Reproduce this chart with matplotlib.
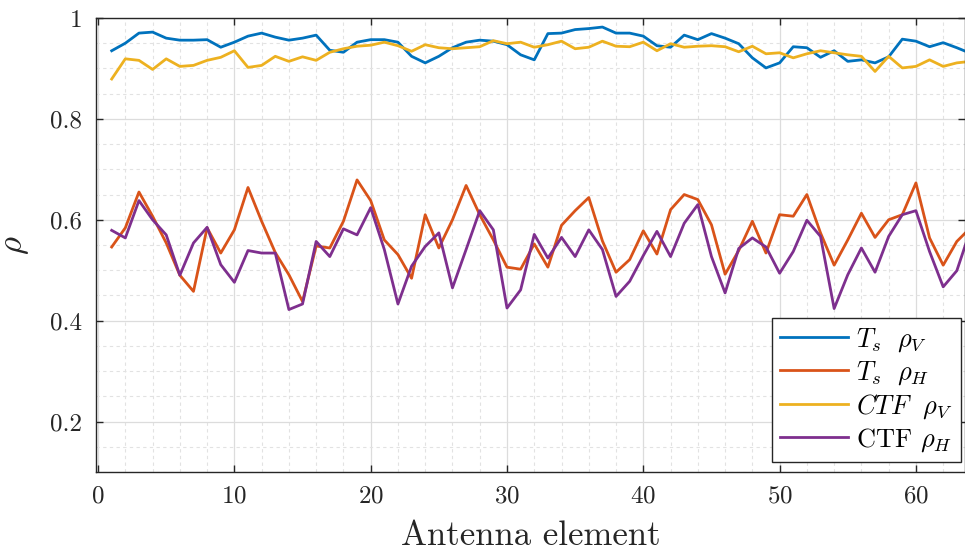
import matplotlib
matplotlib.use('Agg')
import matplotlib.pyplot as plt
import numpy as np
from matplotlib.ticker import MultipleLocator

plt.rcParams['font.family'] = 'serif'
plt.rcParams['font.serif'] = ['cmr10', 'DejaVu Serif']
plt.rcParams['mathtext.fontset'] = 'cm'
plt.rcParams['axes.formatter.use_mathtext'] = True

# data
elements = np.arange(1, 65)
ts_rho_v = [0.935, 0.950, 0.970, 0.972, 0.960, 0.956, 0.956, 0.957, 0.942, 0.952,
            0.964, 0.970, 0.962, 0.956, 0.960, 0.966, 0.936, 0.932, 0.952, 0.957,
            0.957, 0.952, 0.924, 0.911, 0.924, 0.941, 0.952, 0.956, 0.954, 0.947,
            0.927, 0.917, 0.969, 0.970, 0.977, 0.979, 0.982, 0.970, 0.970, 0.964,
            0.945, 0.942, 0.966, 0.957, 0.969, 0.960, 0.949, 0.921, 0.901, 0.911,
            0.943, 0.941, 0.922, 0.935, 0.914, 0.917, 0.911, 0.923, 0.958, 0.954,
            0.943, 0.951, 0.941, 0.930]
ts_rho_h = [0.546, 0.584, 0.655, 0.607, 0.554, 0.490, 0.458, 0.584, 0.534, 0.580,
            0.664, 0.597, 0.535, 0.491, 0.438, 0.548, 0.544, 0.597, 0.679, 0.638,
            0.560, 0.531, 0.484, 0.610, 0.544, 0.600, 0.668, 0.610, 0.560, 0.506,
            0.502, 0.552, 0.506, 0.589, 0.618, 0.644, 0.558, 0.496, 0.521, 0.578,
            0.532, 0.620, 0.650, 0.640, 0.590, 0.492, 0.539, 0.597, 0.534, 0.610,
            0.607, 0.650, 0.574, 0.510, 0.560, 0.613, 0.565, 0.600, 0.610, 0.673,
            0.564, 0.510, 0.557, 0.584]
ctf_rho_v = [0.879, 0.919, 0.916, 0.898, 0.919, 0.904, 0.906, 0.916, 0.922, 0.935,
             0.902, 0.906, 0.924, 0.914, 0.923, 0.916, 0.932, 0.939, 0.944, 0.946,
             0.952, 0.945, 0.934, 0.947, 0.941, 0.939, 0.941, 0.943, 0.955, 0.949,
             0.952, 0.942, 0.947, 0.954, 0.939, 0.942, 0.954, 0.944, 0.943, 0.952,
             0.935, 0.949, 0.942, 0.944, 0.945, 0.943, 0.933, 0.944, 0.929, 0.931,
             0.921, 0.929, 0.935, 0.931, 0.927, 0.924, 0.894, 0.924, 0.901, 0.904,
             0.917, 0.904, 0.911, 0.914]
ctf_rho_h = [0.579, 0.564, 0.638, 0.600, 0.570, 0.490, 0.554, 0.585, 0.511, 0.476,
             0.539, 0.534, 0.534, 0.422, 0.433, 0.557, 0.527, 0.582, 0.570, 0.624,
             0.541, 0.433, 0.508, 0.547, 0.574, 0.465, 0.541, 0.618, 0.580, 0.425,
             0.461, 0.571, 0.524, 0.565, 0.527, 0.580, 0.541, 0.448, 0.478, 0.529,
             0.577, 0.527, 0.593, 0.630, 0.527, 0.455, 0.543, 0.564, 0.546, 0.494,
             0.537, 0.599, 0.567, 0.424, 0.491, 0.544, 0.496, 0.567, 0.610, 0.618,
             0.537, 0.467, 0.499, 0.580]

series = [ts_rho_v, ts_rho_h, ctf_rho_v, ctf_rho_h]
labels = [r'$T_s\ \ \rho_V$', r'$T_s\ \ \rho_H$', r'$CTF\ \ \rho_V$', r'CTF $\rho_H$']
colors = ['#0072BD', '#D95319', '#EDB120', '#7E2F8E']

x_ticks = [0, 10, 20, 30, 40, 50, 60]
y_ticks = [0.2, 0.4, 0.6, 0.8, 1.0]
y_tick_labels = ['0.2', '0.4', '0.6', '0.8', '1']

fig = plt.figure(figsize=(9.65, 5.53), dpi=100)
ax = fig.add_axes([0.0995, 0.1465, 0.9005, 0.821])

for vals, lab, col in zip(series, labels, colors):
    ax.plot(elements, vals, color=col, lw=2, label=lab)

ax.set_xlim(-0.15, 63.6)
ax.set_ylim(0.1, 1.0)
ax.set_xticks(x_ticks)
ax.set_yticks(y_ticks)
ax.set_yticklabels(y_tick_labels)
ax.xaxis.set_minor_locator(MultipleLocator(2))
ax.yaxis.set_minor_locator(MultipleLocator(0.05))

ax.grid(True, which='major', color='#dcdcdc', lw=0.9, zorder=0)
ax.grid(True, which='minor', color='#e2e2e2', lw=0.8, linestyle=(0, (3, 3)), zorder=0)
ax.set_axisbelow(True)

ax.tick_params(which='major', direction='in', length=5, width=1, top=True, right=True,
               labelsize=18, colors='#262626', pad=10)
ax.tick_params(which='minor', length=0)
for s in ax.spines.values():
    s.set_color('#262626')
    s.set_linewidth(1)

ax.set_xlabel('Antenna element', fontsize=25, color='#262626', labelpad=9)
ax.set_ylabel(r'$\rho$', fontsize=25, color='#262626', labelpad=14)

leg = ax.legend(loc='lower right', bbox_to_anchor=(0.995, 0.022), borderaxespad=0,
                fancybox=False, edgecolor='#262626', framealpha=1, fontsize=19,
                handlelength=2.6, labelspacing=0.2, borderpad=0.3, handletextpad=0.3)
leg.get_frame().set_linewidth(1)

plt.savefig('out.png', dpi=100)
plt.close()
